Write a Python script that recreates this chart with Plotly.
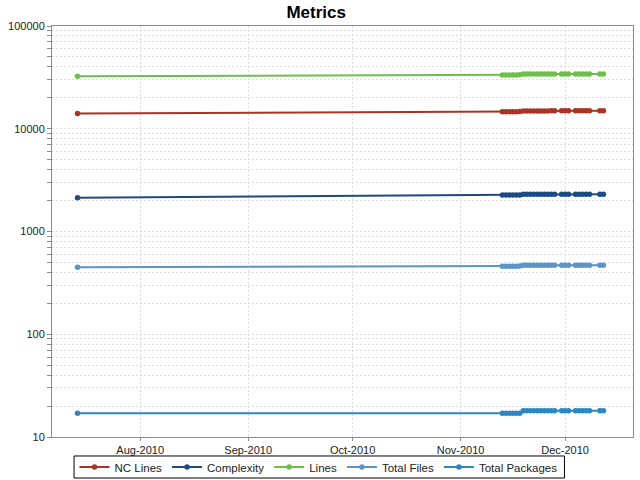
import plotly.graph_objects as go

dates = ["2010-07-14",
         "2010-11-13", "2010-11-14", "2010-11-15", "2010-11-16", "2010-11-17", "2010-11-18",
         "2010-11-19", "2010-11-20", "2010-11-21", "2010-11-22", "2010-11-23",
         "2010-11-24", "2010-11-25", "2010-11-26", "2010-11-27", "2010-11-28",
         "2010-11-30", "2010-12-01", "2010-12-02",
         "2010-12-04", "2010-12-05", "2010-12-06", "2010-12-07", "2010-12-08",
         "2010-12-11", "2010-12-12"]

nc_lines = [14100,
            14600, 14600, 14600, 14620, 14620, 14700,
            14900, 14900, 14900, 14910, 14910, 14920, 14920, 14920, 14930, 14930,
            14940, 14940, 14940,
            14950, 14950, 14950, 14960, 14960,
            14970, 14970]
complexity = [2130,
              2260, 2260, 2260, 2262, 2262, 2270,
              2300, 2300, 2300, 2301, 2301, 2302, 2302, 2302, 2303, 2303,
              2304, 2304, 2304,
              2305, 2305, 2305, 2306, 2306,
              2307, 2307]
lines = [32400,
         33300, 33300, 33300, 33320, 33320, 33500,
         34100, 34100, 34100, 34110, 34110, 34120, 34120, 34120, 34130, 34130,
         34140, 34140, 34140,
         34150, 34150, 34150, 34160, 34160,
         34170, 34170]
total_files = [449,
               460, 460, 460, 460, 460, 462,
               469, 469, 469, 469, 469, 469, 469, 469, 469, 469,
               469, 469, 469,
               469, 469, 469, 469, 469,
               469, 469]
total_packages = [17,
                  17, 17, 17, 17, 17, 17,
                  18, 18, 18, 18, 18, 18, 18, 18, 18, 18,
                  18, 18, 18,
                  18, 18, 18, 18, 18,
                  18, 18]

series_names = ["NC Lines", "Complexity", "Lines", "Total Files", "Total Packages"]
series_values = [nc_lines, complexity, lines, total_files, total_packages]
colors = ["#aa3322", "#1d4a86", "#6cc04a", "#5a95c9", "#2b88c4"]

y_major = [10, 100, 1000, 10000, 100000]
y_major_labels = ["10", "100", "1000", "10000", "100000"]

# y tick positions (major + minor log ticks)
yvals = []
ytext = []
for i, m in enumerate(y_major):
    yvals.append(m)
    ytext.append(y_major_labels[i])
    if m < 100000:
        for k in range(2, 10):
            yvals.append(m * k)
            ytext.append("")

x_ticks = ["2010-08-01", "2010-09-01", "2010-10-01", "2010-11-01", "2010-12-01"]
x_tick_labels = ["Aug-2010", "Sep-2010", "Oct-2010", "Nov-2010", "Dec-2010"]

fig = go.Figure()
for name, vals, col in zip(series_names, series_values, colors):
    fig.add_trace(go.Scatter(
        x=dates, y=vals, name=name, mode="lines+markers",
        line=dict(color=col, width=2),
        marker=dict(color=col, size=5.5, symbol="circle"),
    ))

font_fam = "Liberation Sans, DejaVu Sans, sans-serif"

fig.update_layout(
    width=640, height=480,
    paper_bgcolor="white", plot_bgcolor="white",
    margin=dict(l=52, r=7, t=26, b=43, autoexpand=False),
    title=dict(text="<b>Metrics</b>", x=0.494, xanchor="center",
               y=1 - 12 / 480, yanchor="middle", yref="container",
               font=dict(family=font_fam, size=17, color="black")),
    font=dict(family=font_fam, size=11, color="#333333"),
    showlegend=True,
    legend=dict(orientation="h", x=0.4587, xanchor="center",
                yref="container", y=1 - 467 / 480, yanchor="middle",
                borderwidth=0, bgcolor="rgba(0,0,0,0)",
                font=dict(family=font_fam, size=11.5, color="#222222"),
                itemwidth=30, tracegroupgap=0),
    shapes=[dict(type="rect", xref="paper", yref="paper",
                 x0=0.038, x1=0.882, y0=-0.0998, y1=-0.0462,
                 line=dict(color="black", width=1), fillcolor="rgba(0,0,0,0)",
                 layer="above")],
)

fig.update_xaxes(
    type="date",
    range=["2010-07-06 16:00", "2010-12-20 12:00"],
    tickvals=x_ticks, ticktext=x_tick_labels,
    showgrid=True, gridcolor="#dcdcdc", griddash="2px,2px", gridwidth=1,
    showline=True, linecolor="#8a8a8a", linewidth=1, mirror=True,
    ticks="outside", ticklen=3, tickcolor="#8a8a8a",
    tickfont=dict(family=font_fam, size=11, color="#222222"),
    zeroline=False,
)
fig.update_yaxes(
    type="log",
    range=[1, 5],
    tickvals=yvals, ticktext=ytext,
    showgrid=True, gridcolor="#dcdcdc", griddash="2px,2px", gridwidth=1,
    showline=True, linecolor="#8a8a8a", linewidth=1, mirror=True,
    ticks="outside", ticklen=4, tickcolor="#8a8a8a",
    tickfont=dict(family=font_fam, size=11, color="#222222"),
    zeroline=False,
)

fig.write_html("out.html")
